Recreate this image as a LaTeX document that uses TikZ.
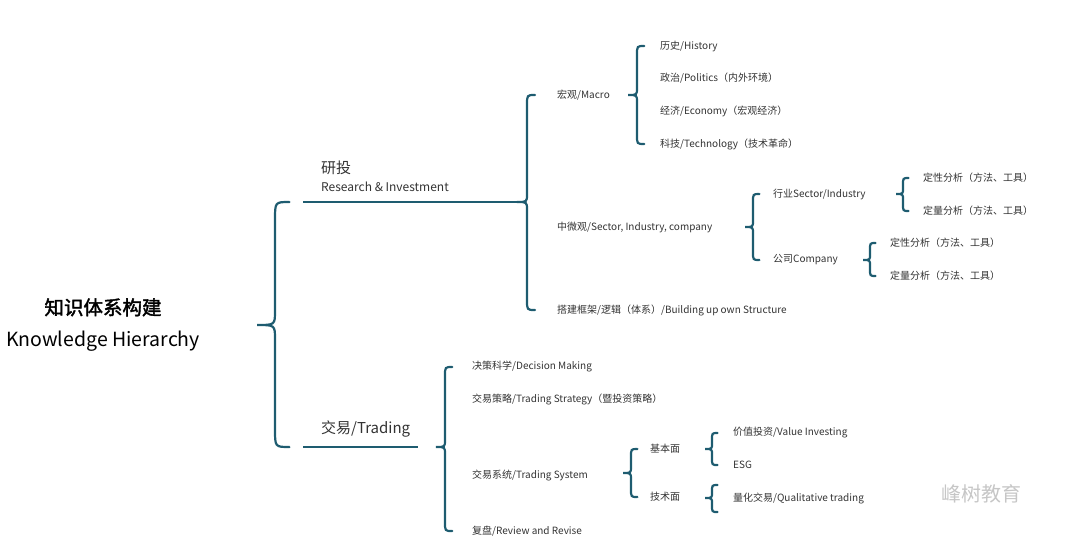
\documentclass[tikz,border=0pt]{standalone}
\usepackage{fontspec}
\setmainfont{Noto Sans CJK SC}
\newfontfamily\cjkb{Noto Sans CJK SC}[FakeBold=2]
\definecolor{br}{HTML}{1E5C70}
\definecolor{tx}{HTML}{333333}
\newcommand{\mybrace}[5]{% x, top, bottom, mid, width
  \draw[br,line width=2.2pt,line cap=round] (#1+#5*0.4,#2) .. controls (#1,#2) .. (#1,#2+#5*0.5) -- (#1,#4-#5*0.4) .. controls (#1,#4) .. (#1-#5*0.5,#4) .. controls (#1,#4) .. (#1,#4+#5*0.4) -- (#1,#3-#5*0.5) .. controls (#1,#3) .. (#1+#5*0.4,#3);}
\begin{document}
\begin{tikzpicture}[x=1pt,y=-1pt,
  it/.style={anchor=west,inner sep=0pt,text=tx,font=\fontsize{10}{12}\selectfont},
  lv/.style={anchor=west,inner sep=0pt,text=tx,font=\fontsize{15}{18}\selectfont}]
\useasboundingbox (0,0) rectangle (1080,544);
\node[anchor=center,text=black,align=center,inner sep=0pt,font=\fontsize{19.5}{32}\selectfont] (root) at (103,325) {{\cjkb 知识体系构建}\\Knowledge Hierarchy};
\mybrace{275}{202}{447}{325}{36}
\node[lv,anchor=south west,align=left] (ri) at (321,192) {研投\\{\fontsize{12}{15}\selectfont Research \& Investment}};
\draw[br,line width=2.2pt] (303,202) -- (517,202);
\node[lv,anchor=south west] (tr) at (321,437) {交易/Trading};
\draw[br,line width=2.2pt] (303,447) -- (418,447);
% research
\mybrace{527}{95}{310}{202}{20}
\node[it] (ma) at (557,95) {宏观/Macro};
\mybrace{637}{46}{144}{95}{18}
\node[it] (m1) at (660,46) {历史/History};
\node[it] (m2) at (660,78) {政治/Politics（内外环境）};
\node[it] (m3) at (660,111) {经济/Economy（宏观经济）};
\node[it] (m4) at (660,144) {科技/Technology（技术革命）};
\node[it] (mi) at (557,227) {中微观/Sector, Industry, company};
\mybrace{753}{194}{260}{227}{16}
\node[it] (se) at (773,194) {行业Sector/Industry};
\mybrace{903}{178}{211}{194}{14}
\node[it] (s1) at (923,178) {定性分析（方法、工具）};
\node[it] (s2) at (923,211) {定量分析（方法、工具）};
\node[it] (co) at (773,260) {公司Company};
\mybrace{870}{243}{276}{260}{14}
\node[it] (c1) at (890,243) {定性分析（方法、工具）};
\node[it] (c2) at (890,276) {定量分析（方法、工具）};
\node[it] (bu) at (557,310) {搭建框架/逻辑（体系）/Building up own Structure};
% trading
\mybrace{445}{367}{531}{447}{18}
\node[it] (t1) at (472,367) {决策科学/Decision Making};
\node[it] (t2) at (472,399) {交易策略/Trading Strategy（暨投资策略）};
\node[it] (t3) at (472,475) {交易系统/Trading System};
\node[it] (t4) at (472,531) {复盘/Review and Revise};
\mybrace{631}{449}{497}{473}{16}
\node[it] (f1) at (650,449) {基本面};
\node[it] (f2) at (650,497) {技术面};
\mybrace{712}{433}{465}{449}{14}
\node[it] (v1) at (733,433) {价值投资/Value Investing};
\node[it] (v2) at (733,465) {ESG};
\mybrace{712}{485}{512}{498}{14}
\node[it] (q1) at (733,498) {量化交易/Qualitative trading};
\node[anchor=west,text=gray!45,font=\fontsize{20}{24}\selectfont] (wm) at (938,494) {峰树教育};
\end{tikzpicture}
\end{document}
